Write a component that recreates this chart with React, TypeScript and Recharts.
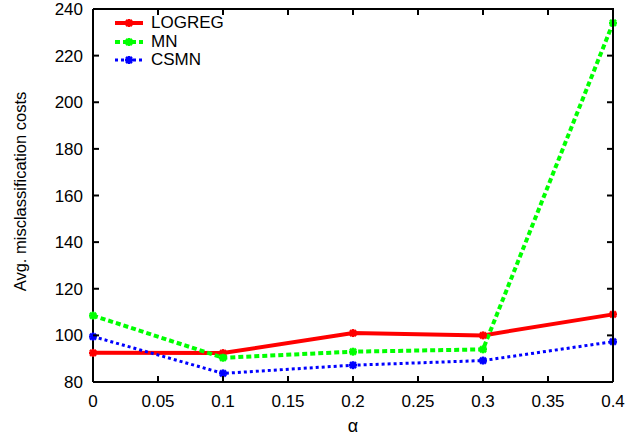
import React from 'react';
import { LineChart, Line, XAxis, YAxis } from 'recharts';

// valeurs
const alphas = [0, 0.1, 0.2, 0.3, 0.4];
const logreg = [92.5, 92.4, 101, 100, 109];
const mn = [108.5, 90.4, 93, 94, 234];
const csmn = [99.5, 83.7, 87.2, 89.2, 97.3];
const xTicks = [0, 0.05, 0.1, 0.15, 0.2, 0.25, 0.3, 0.35, 0.4];
const yTicks = [80, 100, 120, 140, 160, 180, 200, 220, 240];

const data = alphas.map((a, i) => ({ a, logreg: logreg[i], mn: mn[i], csmn: csmn[i] }));

const FONT = '"Liberation Sans", Arial, sans-serif';
const W = 644;
const H = 438;
const M = { top: 9, right: 31, left: 0, bottom: 0 };
const Y_AXIS_W = 93;
const X_AXIS_H = 56;
const TICK = 6;
const PLOT_L = M.left + Y_AXIS_W;
const PLOT_R = W - M.right;
const PLOT_T = M.top;
const PLOT_B = H - M.bottom - X_AXIS_H;

const series = [
  { key: 'logreg', name: 'LOGREG', color: '#ff0000', width: 4, dash: undefined as string | undefined },
  { key: 'mn', name: 'MN', color: '#00ff00', width: 4, dash: '5 3' },
  { key: 'csmn', name: 'CSMN', color: '#0000ff', width: 3, dash: '3 3' },
];

// marqueur "*" façon gnuplot
const Star = ({ cx, cy, color }: { cx?: number; cy?: number; color: string }) => {
  if (cx == null || cy == null) return null;
  const r = 4;
  return (
    <g stroke={color} strokeWidth={2.5}>
      <line x1={cx - r} y1={cy} x2={cx + r} y2={cy} />
      <line x1={cx} y1={cy - r} x2={cx} y2={cy + r} />
      <line x1={cx - 3} y1={cy - 3} x2={cx + 3} y2={cy + 3} />
      <line x1={cx - 3} y1={cy + 3} x2={cx + 3} y2={cy - 3} />
    </g>
  );
};

// graduation x : libellé + traits intérieurs en bas et en haut (cadre gnuplot)
const XTick = (props: any) => {
  const { x, payload } = props;
  return (
    <g>
      <line x1={x} y1={PLOT_B} x2={x} y2={PLOT_B - TICK} stroke="#000" strokeWidth={2} />
      <line x1={x} y1={PLOT_T} x2={x} y2={PLOT_T + TICK} stroke="#000" strokeWidth={2} />
      <text x={x} y={PLOT_B + 13} dy="0.71em" textAnchor="middle" fontFamily={FONT} fontSize={17} fill="#000">
        {payload.value}
      </text>
    </g>
  );
};

const YTick = (props: any) => {
  const { y, payload } = props;
  return (
    <g>
      <line x1={PLOT_L} y1={y} x2={PLOT_L + TICK} y2={y} stroke="#000" strokeWidth={2} />
      <line x1={PLOT_R} y1={y} x2={PLOT_R - TICK} y2={y} stroke="#000" strokeWidth={2} />
      <text x={PLOT_L - 10} y={y} dy="0.355em" textAnchor="end" fontFamily={FONT} fontSize={17} fill="#000">
        {payload.value}
      </text>
    </g>
  );
};

const LegendBox = () => (
  <div style={{ position: 'absolute', left: 111, top: 14, fontFamily: FONT, fontSize: 17, lineHeight: '18.5px' }}>
    {series.map((s) => (
      <div key={s.key} style={{ display: 'flex', alignItems: 'center' }}>
        <svg width={40} height={18}>
          <line x1={4} y1={9} x2={32} y2={9} stroke={s.color} strokeWidth={s.width} strokeDasharray={s.dash} />
          <Star cx={18} cy={9} color={s.color} />
        </svg>
        <span>{s.name}</span>
      </div>
    ))}
  </div>
);

const YLabel = (props: any) => {
  const vb = props.viewBox || {};
  const cx = 22;
  const cy = (vb.y ?? 0) + (vb.height ?? 0) / 2 - 4;
  return (
    <text x={cx} y={cy} transform={`rotate(-90 ${cx} ${cy})`} textAnchor="middle" dominantBaseline="middle"
      fontFamily={FONT} fontSize={16.5} fill="#000">
      Avg. misclassification costs
    </text>
  );
};

export default function App() {
  return (
    <div style={{ position: 'absolute', left: 0, top: 0, width: W, height: H, background: '#fff' }}>
      <LineChart width={W} height={H} data={data} margin={M}>
        <XAxis dataKey="a" type="number" domain={[0, 0.4]} ticks={xTicks} height={X_AXIS_H}
          stroke="#000" strokeWidth={2} tickLine={false} tick={<XTick />} interval={0}
          label={{ value: 'α', position: 'insideBottom', offset: 6, style: { fontFamily: FONT, fontSize: 18, fill: '#000' } }} />
        <YAxis type="number" domain={[80, 240]} ticks={yTicks} width={Y_AXIS_W} interval={0}
          stroke="#000" strokeWidth={2} tickLine={false} tick={<YTick />} label={<YLabel />} />
        {series.map((s) => (
          <Line key={s.key} dataKey={s.key} name={s.name} type="linear"
            stroke={s.color} strokeWidth={s.width} strokeDasharray={s.dash}
            dot={(p: any) => <Star key={`${s.key}-${p.index}`} cx={p.cx} cy={p.cy} color={s.color} />}
            activeDot={false} isAnimationActive={false} />
        ))}
      </LineChart>
      {/* cadre haut/droite */}
      <div style={{
        position: 'absolute', left: PLOT_L, top: PLOT_T - 1, width: PLOT_R - PLOT_L + 1, height: PLOT_B - PLOT_T + 1,
        borderTop: '2px solid #000', borderRight: '2px solid #000', boxSizing: 'border-box', pointerEvents: 'none',
      }} />
      <LegendBox />
    </div>
  );
}
